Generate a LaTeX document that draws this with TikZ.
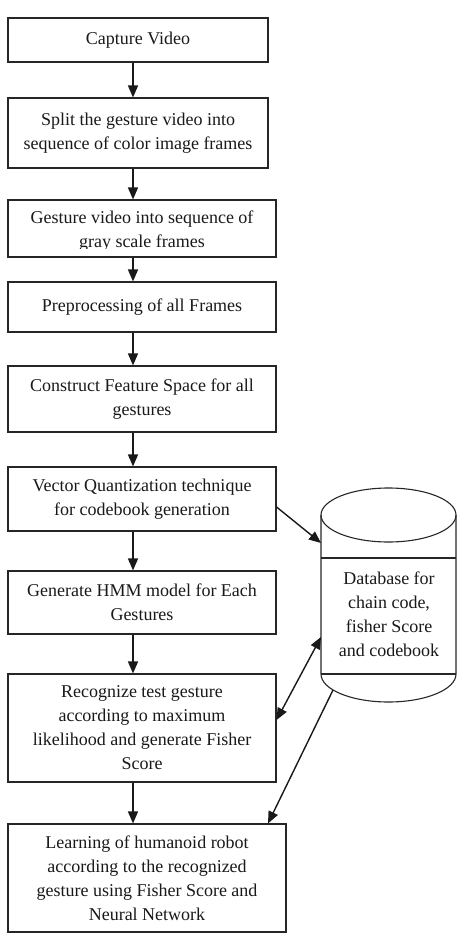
\documentclass[tikz,border=0pt]{standalone}
\usepackage{fontspec}
\setmainfont{Liberation Serif}
\usetikzlibrary{arrows.meta}
\begin{document}
\begin{tikzpicture}[x=1pt,y=-1pt,
  box/.style={draw=black!85, line width=1.1pt, inner sep=0pt},
  txt/.style={align=center, font=\fontsize{18}{24}\selectfont, inner sep=0pt, text=black!90},
  arr/.style={draw=black!90, line width=1.4pt, -{Triangle[length=12pt,width=10pt]}},
  darr/.style={draw=black!90, line width=1.4pt, {Triangle[length=12pt,width=10pt]}-{Triangle[length=12pt,width=10pt]}},
  cyl/.style={draw=black!85, line width=1.1pt}]
\useasboundingbox (0,0) rectangle (457,936);

\node[box, txt, minimum width=260pt, minimum height=44pt] (b1) at (138,40) {Capture Video};
\node[box, txt, minimum width=260pt, minimum height=70pt] (b2) at (138,133) {Split the gesture video into\\sequence of color image frames};
\node[box, minimum width=268pt, minimum height=57pt] (b3) at (142,228.5) {};
\begin{scope}
  \clip (8,200) rectangle (276,248.3);
  \node[txt] (t3) at (142,231.5) {Gesture video into sequence of\\gray scale frames};
\end{scope}
\node[box, txt, minimum width=268pt, minimum height=50pt] (b4) at (142,307) {Preprocessing of all Frames};
\node[box, txt, minimum width=268pt, minimum height=66pt] (b5) at (142,399) {Construct Feature Space for all\\gestures};
\node[box, txt, minimum width=268pt, minimum height=64pt] (b6) at (142,499) {Vector Quantization technique\\for codebook generation};
\node[box, txt, minimum width=268pt, minimum height=63pt] (b7) at (142,602.5) {Generate HMM model for Each\\Gestures};
\node[box, txt, minimum width=268pt, minimum height=108pt] (b8) at (142,728) {Recognize test gesture\\according to maximum\\likelihood and generate Fisher\\Score};
\node[box, txt, minimum width=278pt, minimum height=108pt] (b9) at (147,878) {Learning of humanoid robot\\according to the recognized\\gesture using Fisher Score and\\Neural Network};

% database cylinder
\draw[cyl] (388.5,515) ellipse[x radius=67.5, y radius=27];
\draw[cyl] (321,515) -- (321,674) arc[start angle=180, end angle=0, x radius=67.5, y radius=28] -- (456,515);
\draw[cyl] (321,558) -- (456,558);
\draw[cyl] (321,674) -- (456,674);
\node[txt] (db) at (389,614) {Database for\\chain code,\\fisher Score\\and codebook};
\coordinate (dbin1) at (321,543);
\coordinate (dbin2) at (321,637);
\coordinate (dbout) at (333,690);
\coordinate (dbx) at (268,0);

% vertical flow
\coordinate (ax) at (133,0);
\draw[arr] (b1.south -| ax) -- (b2.north -| ax);
\draw[arr] (b2.south -| ax) -- (b3.north -| ax);
\draw[arr] (b3.south -| ax) -- (b4.north -| ax);
\draw[arr] (b4.south -| ax) -- (b5.north -| ax);
\draw[arr] (b5.south -| ax) -- (b6.north -| ax);
\draw[arr] (b6.south -| ax) -- (b7.north -| ax);
\draw[arr] (b7.south -| ax) -- (b8.north -| ax);
\draw[arr] (b8.south -| ax) -- (b9.north -| ax);

% database links
\draw[arr] ([yshift=-8pt]b6.east) -- (dbin1);
\draw[darr] ([yshift=8pt]b8.east) -- (dbin2);
\draw[arr] (dbout) -- (b9.north -| dbx);
\end{tikzpicture}
\end{document}
